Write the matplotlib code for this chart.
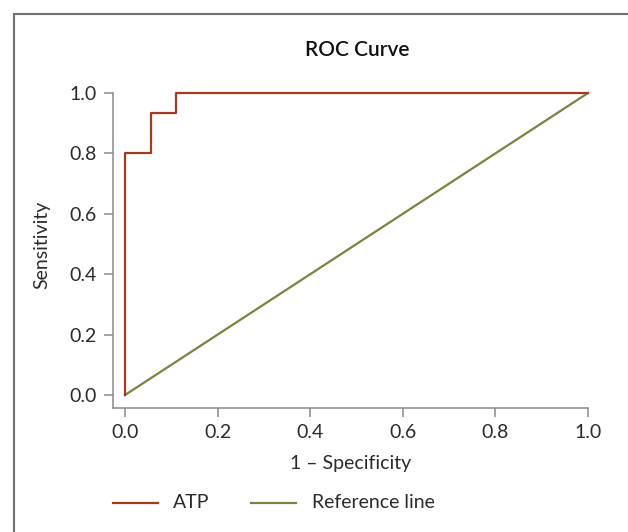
import matplotlib
matplotlib.use("Agg")
import matplotlib.pyplot as plt
from matplotlib.lines import Line2D
from matplotlib.patches import Rectangle

# Data
atp_fpr = [0.0, 0.0, 0.0556, 0.0556, 0.1111, 0.1111, 1.0]
atp_tpr = [0.0, 0.8, 0.8, 0.9333, 0.9333, 1.0, 1.0]
ref_x = [0.0, 1.0]
ref_y = [0.0, 1.0]
ticks = [0.0, 0.2, 0.4, 0.6, 0.8, 1.0]
tick_labels = ["0.0", "0.2", "0.4", "0.6", "0.8", "1.0"]

plt.rcParams['font.family'] = ['Lato', 'DejaVu Sans']

W, H = 628, 532
fig = plt.figure(figsize=(W / 100, H / 100), dpi=100)
fig.patch.set_facecolor("white")

atp_color = "#A63A20"
ref_color = "#7E8140"
spine_color = "#8a8a8a"
text_color = "#2b2b2b"
fs = 14

# Border
fig.add_artist(Rectangle((14 / W, -0.2), 2.0, (H - 14) / H + 0.2,
                         transform=fig.transFigure, fill=False,
                         edgecolor="#707070", linewidth=1.5))

left_px, right_px = 112.7, 588.0
top_px, bottom_px = 93.0, 408.0
ax = fig.add_axes([left_px / W, (H - bottom_px) / H,
                   (right_px - left_px) / W, (bottom_px - top_px) / H])
ax.set_xlim(-0.0266, 1.0)
ax.set_ylim(-0.043, 1.0)
ax.patch.set_alpha(0)

ax.plot(ref_x, ref_y, color=ref_color, lw=1.6, clip_on=False, zorder=2)
ax.plot(atp_fpr, atp_tpr, color=atp_color, lw=1.6, clip_on=False, zorder=3)

for s in ["top", "right"]:
    ax.spines[s].set_visible(False)
for s in ["left", "bottom"]:
    ax.spines[s].set_color(spine_color)
    ax.spines[s].set_linewidth(1.1)

ax.set_xticks(ticks)
ax.set_xticklabels(tick_labels)
ax.set_yticks(ticks)
ax.set_yticklabels(tick_labels)
ax.tick_params(axis="both", length=6.5, width=1.1, color=spine_color,
               labelsize=fs, labelcolor=text_color)
ax.tick_params(axis="x", pad=5)
ax.tick_params(axis="y", pad=5)

ax.set_xlabel("1 – Specificity", fontsize=fs, color=text_color)
ax.set_ylabel("Sensitivity", fontsize=fs, color=text_color)
ax.xaxis.set_label_coords(0.501, -0.175)
ax.yaxis.set_label_coords(-0.15, 0.517)
ax.xaxis.label.set_va("center")
ax.yaxis.label.set_va("center")

fig.text(357 / W, (H - 50) / H, "ROC Curve", ha="center", va="center",
         fontsize=15, fontweight="semibold", color="#111111")

# Legend
ly = (H - 503) / H
fig.add_artist(Line2D([112.7 / W, 158 / W], [ly, ly], color=atp_color, lw=1.6,
                      transform=fig.transFigure))
fig.text(173 / W, ly, "ATP", ha="left", va="center", fontsize=fs, color=text_color)
fig.add_artist(Line2D([250.7 / W, 296 / W], [ly, ly], color=ref_color, lw=1.6,
                      transform=fig.transFigure))
fig.text(311.7 / W, ly, "Reference line", ha="left", va="center", fontsize=fs,
         color=text_color)

fig.savefig("out.png", dpi=100, facecolor="white")
